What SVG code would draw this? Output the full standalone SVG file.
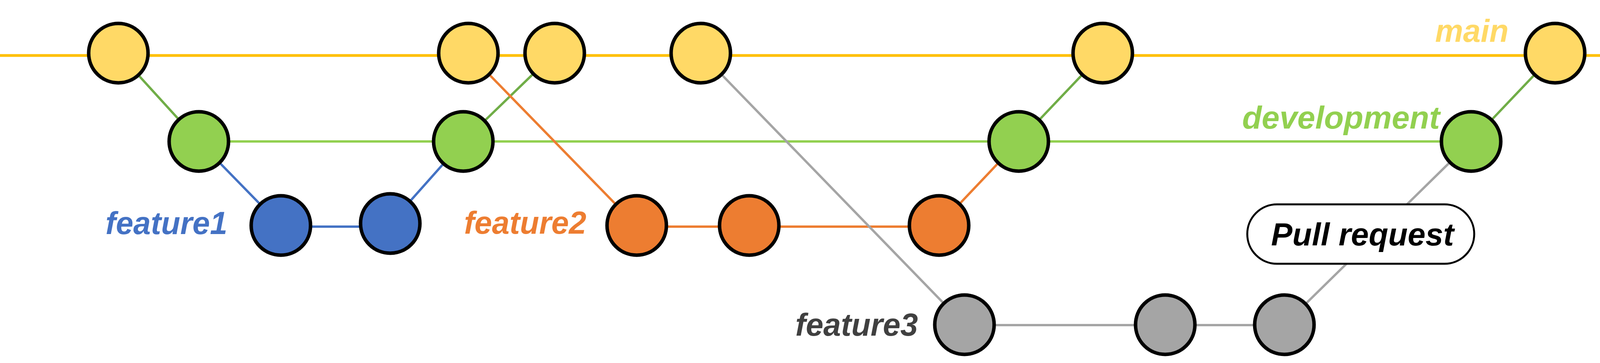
<svg xmlns="http://www.w3.org/2000/svg" width="4163" height="929" viewBox="0 0 4163 929">
<style>
.n{stroke:#000;stroke-width:9}
.main{fill:#FFD966}
.dev{fill:#92D050}
.f1{fill:#4472C4}
.f2{fill:#ED7D31}
.f3{fill:#A5A5A5}
.c{fill:none;stroke-width:6}
.lbl{font-family:"Liberation Sans",Arial,sans-serif;font-weight:bold;font-style:italic;font-size:82px}
</style>
<defs>
<marker id="arr" markerUnits="userSpaceOnUse" markerWidth="28" markerHeight="28" refX="0" refY="14" orient="auto">
<path d="M0,0 L27,14 L0,28 Z" fill="#FFC000"/>
</marker>
</defs>
<rect width="4163" height="929" fill="#fff"/>
<g id="connectors">
<line x1="0" y1="142" x2="4108" y2="142" stroke="#FFC000" stroke-width="7" marker-end="url(#arr)"/>
<line class="c" x1="509" y1="362" x2="3766" y2="362" stroke="#92D050"/>
<line class="c" x1="720" y1="580" x2="1000" y2="580" stroke="#4472C4"/>
<line class="c" x1="1630" y1="580" x2="2404" y2="580" stroke="#ED7D31"/>
<line class="c" x1="2469" y1="832" x2="3288" y2="832" stroke="#A5A5A5"/>
<line class="c" x1="303" y1="136" x2="509" y2="362" stroke="#70AD47"/>
<line class="c" x1="509" y1="362" x2="719" y2="577" stroke="#4472C4"/>
<line class="c" x1="999" y1="572" x2="1186" y2="362" stroke="#4472C4"/>
<line class="c" x1="1186" y1="362" x2="1420" y2="136" stroke="#70AD47"/>
<line class="c" x1="1199" y1="136" x2="1630" y2="578" stroke="#ED7D31"/>
<line class="c" x1="2404" y1="577" x2="2608" y2="362" stroke="#ED7D31"/>
<line class="c" x1="2608" y1="362" x2="2823" y2="136" stroke="#70AD47"/>
<line class="c" x1="1794" y1="136" x2="2469" y2="831" stroke="#A5A5A5"/>
<line class="c" x1="3288" y1="831" x2="3766" y2="362" stroke="#A5A5A5"/>
<line class="c" x1="3766" y1="362" x2="3981" y2="136" stroke="#70AD47"/>
</g>
<g id="m1"><circle class="n main" cx="303" cy="136" r="76"/></g>
<g id="m2"><circle class="n main" cx="1199" cy="136" r="76"/></g>
<g id="m3"><circle class="n main" cx="1420" cy="136" r="76"/></g>
<g id="m4"><circle class="n main" cx="1794" cy="136" r="76"/></g>
<g id="m5"><circle class="n main" cx="2823" cy="136" r="76"/></g>
<g id="m6"><circle class="n main" cx="3981" cy="136" r="76"/></g>
<g id="d1"><circle class="n dev" cx="509" cy="362" r="76"/></g>
<g id="d2"><circle class="n dev" cx="1186" cy="362" r="76"/></g>
<g id="d3"><circle class="n dev" cx="2608" cy="362" r="76"/></g>
<g id="d4"><circle class="n dev" cx="3766" cy="362" r="76"/></g>
<g id="b1"><circle class="n f1" cx="719" cy="577" r="76"/></g>
<g id="b2"><circle class="n f1" cx="999" cy="572" r="76"/></g>
<g id="o1"><circle class="n f2" cx="1630" cy="577" r="76"/></g>
<g id="o2"><circle class="n f2" cx="1918" cy="577" r="76"/></g>
<g id="o3"><circle class="n f2" cx="2404" cy="577" r="76"/></g>
<g id="g1"><circle class="n f3" cx="2469" cy="831" r="76"/></g>
<g id="g2"><circle class="n f3" cx="2983" cy="831" r="76"/></g>
<g id="g3"><circle class="n f3" cx="3288" cy="831" r="76"/></g>
<g id="pr">
<rect x="3193" y="523" width="581" height="152" rx="76" ry="76" fill="#fff" stroke="#000" stroke-width="5"/>
<text class="lbl" x="3254" y="628" fill="#000" textLength="468" lengthAdjust="spacingAndGlyphs">Pull request</text>
</g>
<g id="labels">
<text class="lbl" x="3674" y="107" fill="#FFD966" textLength="188" lengthAdjust="spacingAndGlyphs">main</text>
<text class="lbl" x="3180" y="329" fill="#92D050" textLength="506" lengthAdjust="spacingAndGlyphs">development</text>
<text class="lbl" x="270" y="599" fill="#4472C4" textLength="312" lengthAdjust="spacingAndGlyphs">feature1</text>
<text class="lbl" x="1188" y="598" fill="#ED7D31" textLength="313" lengthAdjust="spacingAndGlyphs">feature2</text>
<text class="lbl" x="2036" y="859" fill="#404040" textLength="314" lengthAdjust="spacingAndGlyphs">feature3</text>
</g>
</svg>
